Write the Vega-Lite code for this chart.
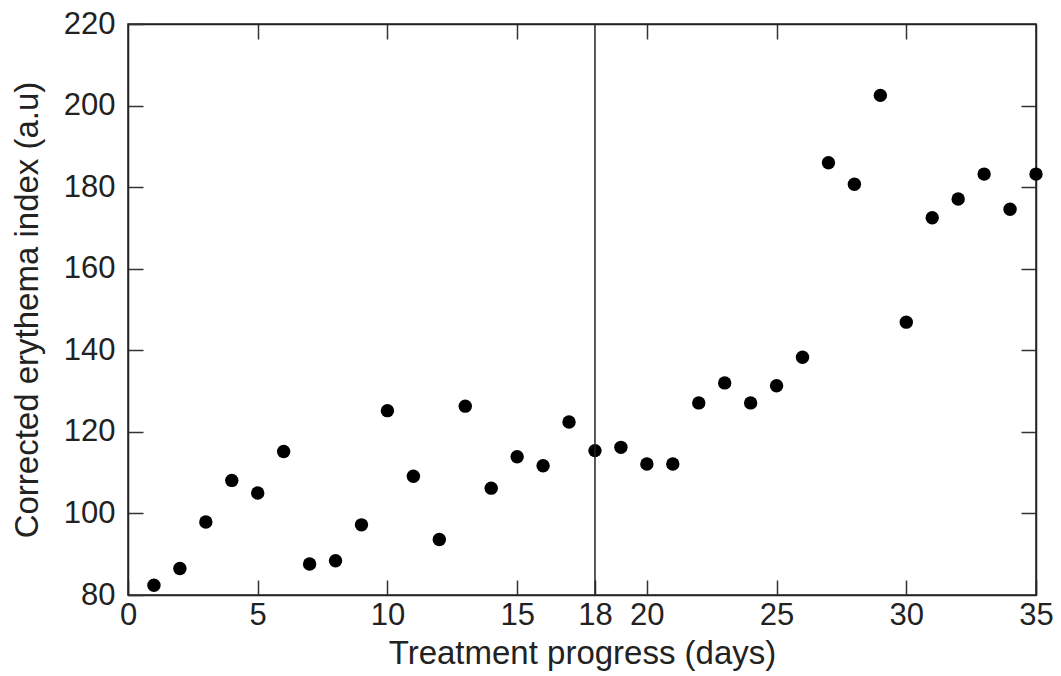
{
  "$schema": "https://vega.github.io/schema/vega-lite/v6.json",
  "width": 908,
  "height": 571,
  "autosize": {"type": "none"},
  "padding": {"left": 128, "top": 24, "right": 25, "bottom": 81},
  "background": "white",
  "config": {
    "view": {"stroke": "#222", "strokeWidth": 1.5},
    "font": "Liberation Sans",
    "axis": {
      "grid": false,
      "domainColor": "#222",
      "domainWidth": 1.5,
      "tickColor": "#333",
      "tickWidth": 1.5,
      "tickSize": -15,
      "labelFont": "Liberation Sans",
      "labelFontSize": 31,
      "labelColor": "#222",
      "titleFont": "Liberation Sans",
      "titleFontSize": 33,
      "titleFontWeight": "normal",
      "titleColor": "#222"
    }
  },
  "datasets": {
    "pts": [
      {"day": 1, "index": 82.4},
      {"day": 2, "index": 86.5},
      {"day": 3, "index": 97.9},
      {"day": 4, "index": 108.1},
      {"day": 5, "index": 105.0},
      {"day": 6, "index": 115.2},
      {"day": 7, "index": 87.6},
      {"day": 8, "index": 88.4},
      {"day": 9, "index": 97.2},
      {"day": 10, "index": 125.2},
      {"day": 11, "index": 109.1},
      {"day": 12, "index": 93.6},
      {"day": 13, "index": 126.3},
      {"day": 14, "index": 106.2},
      {"day": 15, "index": 113.9},
      {"day": 16, "index": 111.7},
      {"day": 17, "index": 122.4},
      {"day": 18, "index": 115.4},
      {"day": 19, "index": 116.2},
      {"day": 20, "index": 112.1},
      {"day": 21, "index": 112.1},
      {"day": 22, "index": 127.1},
      {"day": 23, "index": 132.0},
      {"day": 24, "index": 127.1},
      {"day": 25, "index": 131.3},
      {"day": 26, "index": 138.3},
      {"day": 27, "index": 186.0},
      {"day": 28, "index": 180.7},
      {"day": 29, "index": 202.5},
      {"day": 30, "index": 146.9},
      {"day": 31, "index": 172.5},
      {"day": 32, "index": 177.1},
      {"day": 33, "index": 183.2},
      {"day": 34, "index": 174.6},
      {"day": 35, "index": 183.2}
    ],
    "vline": [{"day": 18, "lo": 80, "hi": 220}]
  },
  "layer": [
    {
      "data": {"name": "pts"},
      "mark": {"type": "point", "filled": true, "shape": "circle", "size": 180, "color": "black", "opacity": 1},
      "encoding": {
        "x": {
          "field": "day", "type": "quantitative",
          "scale": {"domain": [0, 35], "nice": false, "zero": false},
          "axis": {
            "orient": "bottom",
            "values": [0, 5, 10, 15, 18, 20, 25, 30, 35],
            "title": "Treatment progress (days)",
            "labelPadding": 20,
            "labelFlush": false,
            "titleBaseline": "alphabetic",
            "titleY": 68
          }
        },
        "y": {
          "field": "index", "type": "quantitative",
          "scale": {"domain": [80, 220], "nice": false, "zero": false},
          "axis": {
            "orient": "left",
            "values": [80, 100, 120, 140, 160, 180, 200, 220],
            "title": "Corrected erythema index (a.u)",
            "labelPadding": 28,
            "labelFlush": false,
            "titleBaseline": "alphabetic",
            "titleX": -91
          }
        }
      }
    },
    {
      "data": {"name": "vline"},
      "mark": {"type": "rule", "color": "#222", "strokeWidth": 1.5},
      "encoding": {
        "x": {
          "field": "day", "type": "quantitative",
          "axis": {"orient": "top", "values": [5, 10, 15, 20, 25, 30], "labels": false, "title": null}
        },
        "y": {
          "field": "lo", "type": "quantitative",
          "axis": {"orient": "right", "values": [100, 120, 140, 160, 180, 200], "labels": false, "title": null}
        },
        "y2": {"field": "hi"}
      }
    }
  ],
  "resolve": {"axis": {"x": "independent", "y": "independent"}}
}
